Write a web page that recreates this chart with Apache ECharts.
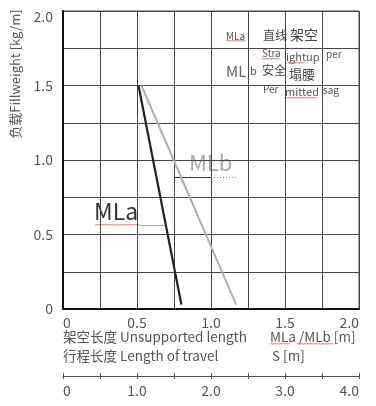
<!DOCTYPE html>
<html>
<head>
<meta charset="utf-8">
<script src="https://cdn.jsdelivr.net/npm/echarts@6/dist/echarts.min.js"></script>
<style>
  html, body { margin: 0; padding: 0; background: #fff; }
  #chart { width: 376px; height: 406px; }
</style>
</head>
<body>
<div id="chart"></div>
<script>
// values
const mlaLine = [[0.51, 1.5], [0.80, 0.03]];
const mlbLine = [[0.53, 1.5], [1.17, 0.03]];
const lengthTicks = [0, 0.5, 1.0, 1.5, 2.0];
const loadTicks = [0, 0.5, 1.0, 1.5, 2.0];
const travelTicks = [0, 1, 2, 3, 4];

const font = "'Noto Sans CJK SC', 'Noto Sans', sans-serif";
const grey = '#555';

function fmt(v) {
  return v === 0 ? '0' : v.toFixed(1);
}

function txt(text, x, y, size, color, extra) {
  return {
    type: 'text', x: x, y: y, silent: true,
    style: Object.assign({
      text: text, font: size + 'px ' + font, fill: color || '#444',
      textAlign: 'left', textVerticalAlign: 'middle'
    }, extra || {})
  };
}

// red spell-check squiggle (decoration only)
function squiggle(x1, x2, y) {
  const pts = [];
  let up = false;
  for (let x = x1; x <= x2; x += 1.5) {
    pts.push([x, up ? y : y + 1.5]);
    up = !up;
  }
  return {
    type: 'polyline', silent: true,
    shape: { points: pts },
    style: { stroke: '#d44', lineWidth: 0.8, fill: null }
  };
}

function hline(x1, x2, y, color, dash) {
  return {
    type: 'line', silent: true,
    shape: { x1: x1, y1: y, x2: x2, y2: y },
    style: { stroke: color, lineWidth: 1, lineDash: dash || null }
  };
}

const chart = echarts.init(document.getElementById('chart'), null, { renderer: 'canvas' });

const option = {
  backgroundColor: '#fff',
  animation: false,
  textStyle: { fontFamily: font },
  grid: [
    { left: 63, top: 11, width: 296, height: 298, show: true, borderColor: '#444', borderWidth: 1 },
    { left: 63, top: 376, width: 296, height: 0 }
  ],
  xAxis: [
    {
      gridIndex: 0, type: 'value', min: 0, max: 2, interval: 0.25,
      axisLine: { show: true, lineStyle: { color: '#111', width: 2 } },
      axisTick: { show: false },
      splitLine: { show: true, lineStyle: { color: '#444', width: 1 } },
      axisLabel: {
        margin: 7, fontSize: 14, color: grey, fontFamily: font,
        alignMinLabel: 'left', alignMaxLabel: 'right',
        formatter: v => lengthTicks.some(t => Math.abs(t - v) < 1e-6) ? fmt(v) : ''
      }
    },
    {
      gridIndex: 1, type: 'value', min: 0, max: 4, interval: 0.5, position: 'bottom',
      axisLine: { show: true, lineStyle: { color: '#555', width: 1 } },
      axisTick: { show: true, length: 3, lineStyle: { color: '#555' } },
      splitLine: { show: false },
      axisLabel: {
        margin: 8, fontSize: 14, color: grey, fontFamily: font,
        alignMinLabel: 'left', alignMaxLabel: 'right',
        formatter: v => travelTicks.some(t => Math.abs(t - v) < 1e-6) ? fmt(v) : ''
      }
    },
    {
      gridIndex: 1, type: 'value', min: 0, max: 4, interval: 0.5, position: 'bottom',
      axisLine: { show: false },
      axisTick: { show: true, inside: true, length: 3, lineStyle: { color: '#555' } },
      splitLine: { show: false },
      axisLabel: { show: false }
    }
  ],
  yAxis: [
    {
      gridIndex: 0, type: 'value', min: 0, max: 2, interval: 0.25,
      axisLine: { show: true, lineStyle: { color: '#111', width: 2 } },
      axisTick: { show: false },
      splitLine: { show: true, lineStyle: { color: '#444', width: 1 } },
      axisLabel: {
        margin: 10, fontSize: 14, color: grey, fontFamily: font,
        formatter: v => {
          if (!loadTicks.some(t => Math.abs(t - v) < 1e-6)) return '';
          return v === 2 ? '{top|' + fmt(v) + '}' : fmt(v);
        },
        rich: { top: { fontSize: 14, color: grey, padding: [12, 0, 0, 0], fontFamily: font } }
      }
    },
    { gridIndex: 1, type: 'value', show: false }
  ],
  series: [
    {
      name: 'MLa', type: 'line', xAxisIndex: 0, yAxisIndex: 0,
      data: mlaLine, symbol: 'none',
      lineStyle: { color: '#222', width: 2.2 }
    },
    {
      name: 'MLb', type: 'line', xAxisIndex: 0, yAxisIndex: 0,
      data: mlbLine, symbol: 'none',
      lineStyle: { color: '#b0b0b0', width: 2 }
    }
  ],
  graphic: [
    // y axis title
    {
      type: 'text', x: 15, y: 74, rotation: Math.PI / 2, silent: true,
      style: {
        text: '负载Fillweight [kg/m]', font: '13px ' + font, fill: '#555',
        textAlign: 'center', textVerticalAlign: 'middle'
      }
    },
    // line labels
    txt('MLa', 94, 211, 23, '#333'),
    squiggle(95, 140, 224),
    hline(140, 166, 225.5, '#aaa'),
    txt('MLb', 189, 163, 22, '#aaa'),
    hline(175, 211, 177.5, '#333'),
    hline(211, 238, 177.5, '#d66', [1, 2]),
    // legend block, top right
    txt('MLa', 226, 36, 10, '#555'),
    squiggle(226, 246, 40),
    txt('直线', 263, 35, 12, '#444'),
    txt('架空', 290, 35, 14, '#444'),
    txt('Stra', 262, 53, 10, '#555', { letterSpacing: 1 }),
    squiggle(262, 281, 58),
    txt('ightup', 286, 57, 11, '#555', { letterSpacing: 1 }),
    squiggle(287, 305, 62),
    txt('per', 326, 54, 10, '#555', { letterSpacing: 2 }),
    txt('ML', 226, 71, 15, '#666'),
    txt('b', 250, 71, 11, '#555'),
    txt('安全', 262, 70, 12, '#444'),
    txt('塌腰', 289, 74, 13, '#444'),
    txt('Per', 263, 89, 10, '#555', { letterSpacing: 2 }),
    txt('mitted', 285, 92, 11, '#555', { letterSpacing: 1 }),
    squiggle(285, 318, 97),
    txt('sag', 323, 90, 10, '#555', { letterSpacing: 2 }),
    // axis captions
    txt('架空长度 Unsupported length', 63, 337, 13.5, '#555'),
    txt('MLa /MLb [m]', 270, 337, 13.5, '#555'),
    squiggle(270, 290, 343),
    squiggle(297, 334, 343),
    txt('行程长度 Length of travel', 63, 356, 13.5, '#555'),
    txt('S [m]', 272, 356, 13.5, '#555')
  ]
};

chart.setOption(option);
</script>
</body>
</html>
